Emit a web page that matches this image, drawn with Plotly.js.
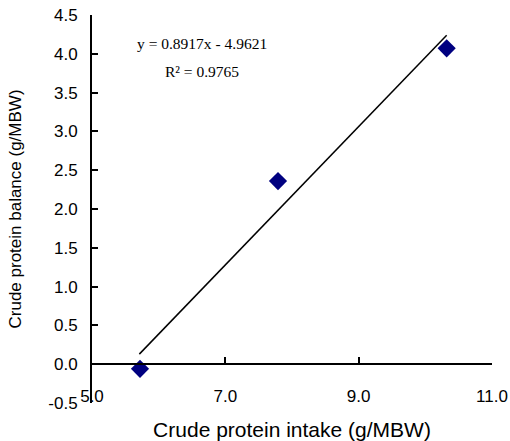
<!DOCTYPE html>
<html>
<head>
<meta charset="utf-8">
<script src="https://cdn.plot.ly/plotly-3.0.1.min.js"></script>
<style>html,body{margin:0;padding:0;background:#fff;}#chart{width:510px;height:441px;}</style>
</head>
<body>
<div id="chart"></div>
<script>
// Data
const intake = [5.72, 7.79, 10.32];          // Crude protein intake (g/MBW)
const balance = [-0.06, 2.36, 4.07];         // Crude protein balance (g/MBW)
const trendX = [5.71, 10.32];                // trendline end points as drawn
const trendY = [0.13, 4.24];
const xTicks = [5, 7, 9, 11];
const xTickLabels = ['5.0', '7.0', '9.0', '11.0'];
const yTicks = [-0.5, 0, 0.5, 1, 1.5, 2, 2.5, 3, 3.5, 4, 4.5];
const yTickLabels = ['-0.5', '0.0', '0.5', '1.0', '1.5', '2.0', '2.5', '3.0', '3.5', '4.0', '4.5'];
const eqLine1 = 'y = 0.8917x - 4.9621';
const eqLine2 = 'R² = 0.9765';

const traces = [
  {
    x: trendX, y: trendY, type: 'scatter', mode: 'lines',
    line: {color: '#000000', width: 1.5}, hoverinfo: 'skip', showlegend: false
  },
  {
    x: intake, y: balance, type: 'scatter', mode: 'markers',
    marker: {symbol: 'diamond', size: 14, color: '#000080', line: {width: 0}},
    showlegend: false
  }
];

const layout = {
  width: 510, height: 441,
  margin: {l: 92, r: 18, t: 15, b: 38},
  paper_bgcolor: '#ffffff', plot_bgcolor: '#ffffff',
  font: {family: 'Liberation Sans, Arial, sans-serif', color: '#000000', size: 17},
  showlegend: false,
  xaxis: {
    range: [5, 11], anchor: 'free', position: 0.1,
    tickmode: 'array', tickvals: xTicks, ticktext: xTickLabels,
    ticks: 'inside', ticklen: 6, tickwidth: 2, tickcolor: '#000',
    showline: true, linewidth: 2, linecolor: '#000',
    showgrid: false, zeroline: false,
    ticklabelstandoff: 16,
    tickfont: {size: 17},
    title: {text: 'Crude protein intake (g/MBW)', font: {size: 21}, standoff: 18},
    automargin: false
  },
  yaxis: {
    range: [-0.5, 4.5],
    tickmode: 'array', tickvals: yTicks, ticktext: yTickLabels,
    ticks: 'inside', ticklen: 6, tickwidth: 2, tickcolor: '#000',
    showline: true, linewidth: 2, linecolor: '#000',
    showgrid: false, zeroline: false,
    ticklabelstandoff: 9,
    tickfont: {size: 17},
    title: {text: 'Crude protein balance (g/MBW)', font: {size: 17}, standoff: 22},
    automargin: false
  },
  annotations: [
    {x: 6.65, y: 4.13, xref: 'x', yref: 'y', text: eqLine1, showarrow: false,
     font: {family: 'Liberation Serif, Times New Roman, serif', size: 15.5, color: '#000'}},
    {x: 6.65, y: 3.77, xref: 'x', yref: 'y', text: eqLine2, showarrow: false,
     font: {family: 'Liberation Serif, Times New Roman, serif', size: 15.5, color: '#000'}}
  ]
};

Plotly.newPlot('chart', traces, layout, {displayModeBar: false, staticPlot: true});
</script>
</body>
</html>
